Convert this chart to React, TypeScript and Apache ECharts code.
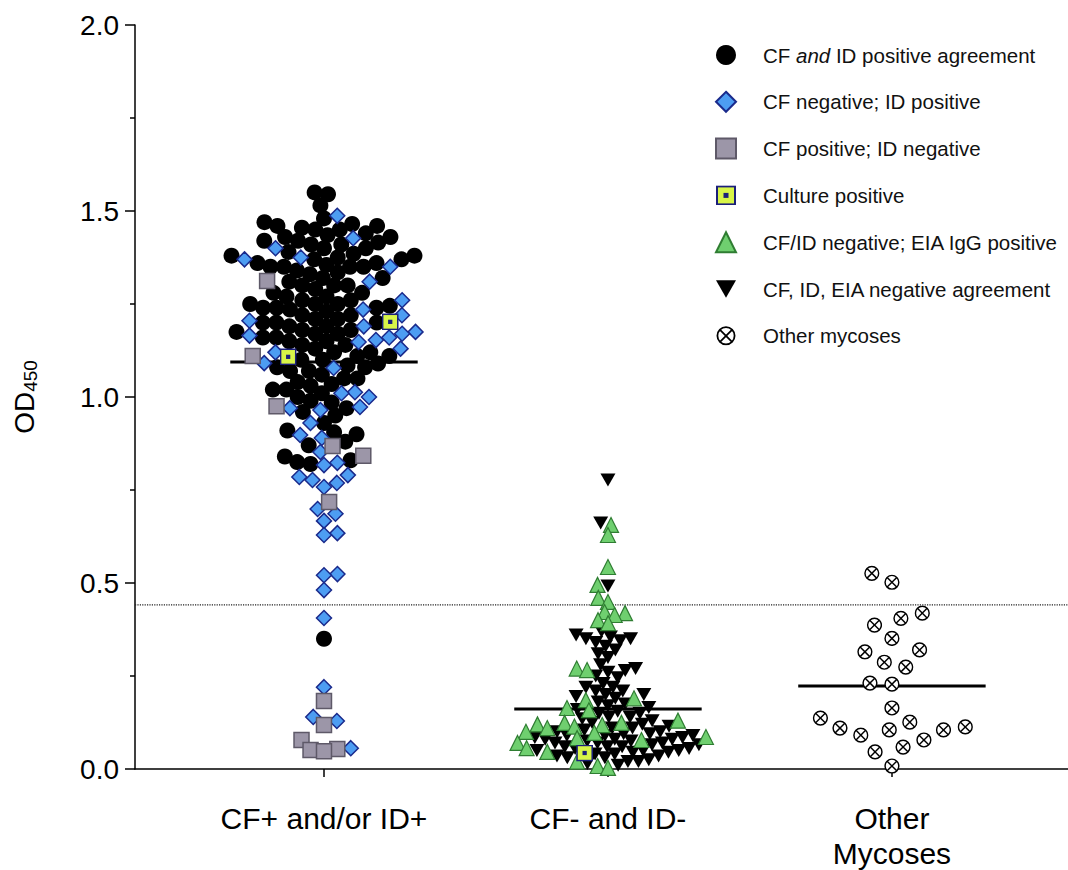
import React, { useEffect, useRef } from "react";
import * as echarts from "echarts";

// ---------- data ----------
const CATEGORIES = ["CF+ and/or ID+", "CF- and ID-", "Other\nMycoses"];
const GROUP_MEANS = [1.094, 0.161, 0.223];
const CUTOFF = 0.441;

const SERIES_NAMES = [
  "CF and ID positive agreement",
  "CF negative; ID positive",
  "CF positive; ID negative",
  "Culture positive",
  "CF/ID negative; EIA IgG positive",
  "CF, ID, EIA negative agreement",
  "Other mycoses",
];

// group 0: CF+ and/or ID+
const agreePos = [
  1.55, 1.545, 1.515,
  1.48, 1.47, 1.465, 1.46, 1.46, 1.455, 1.45, 1.45,
  1.44, 1.435, 1.43, 1.43, 1.42, 1.42, 1.415, 1.41, 1.41, 1.4, 1.4,
  1.39, 1.385, 1.38, 1.38, 1.375, 1.37, 1.37, 1.36, 1.36, 1.355, 1.35, 1.35, 1.35, 1.35,
  1.34, 1.335, 1.33, 1.32, 1.32, 1.31, 1.3, 1.3, 1.3,
  1.29, 1.28, 1.28, 1.27, 1.27, 1.26, 1.26, 1.25, 1.25, 1.25, 1.245, 1.24, 1.24, 1.24, 1.235,
  1.23, 1.22, 1.22, 1.21, 1.21, 1.2, 1.2, 1.2, 1.19, 1.19, 1.18, 1.18, 1.175, 1.17, 1.17, 1.16, 1.16, 1.15, 1.15,
  1.14, 1.14, 1.13, 1.12, 1.12, 1.11, 1.11, 1.1, 1.1,
  1.09, 1.085, 1.08, 1.08, 1.07, 1.07, 1.06, 1.05, 1.05,
  1.04, 1.035, 1.03, 1.02, 1.02, 1.01, 1.0, 0.99, 0.985,
  0.97, 0.96, 0.95, 0.93, 0.91, 0.905, 0.9, 0.88, 0.87,
  0.84, 0.83, 0.825, 0.82,
  0.35,
];
const cfNegIdPos = [
  1.487, 1.427, 1.4, 1.375, 1.37, 1.35, 1.31, 1.26, 1.235, 1.22, 1.205, 1.19, 1.175, 1.17,
  1.165, 1.16, 1.153, 1.148, 1.13, 1.12, 1.091, 1.078, 1.013, 1.01, 1.0, 0.973, 0.97, 0.965,
  0.93, 0.898, 0.89, 0.852, 0.823, 0.817, 0.79, 0.785, 0.777, 0.769, 0.758, 0.699, 0.686,
  0.667, 0.634, 0.629, 0.524, 0.521, 0.481, 0.406, 0.22, 0.14, 0.129, 0.056,
];
const cfPosIdNeg = [1.312, 1.11, 0.975, 0.868, 0.842, 0.718, 0.183, 0.118, 0.078, 0.054, 0.051, 0.048];
const culturePosG0 = [1.202, 1.108];

// group 1: CF- and ID-
const culturePosG1 = [0.043];
const eiaIgGPos = [
  0.656, 0.629, 0.543, 0.495, 0.46, 0.449, 0.422, 0.419, 0.414, 0.4, 0.392, 0.27, 0.266,
  0.19, 0.185, 0.164, 0.158, 0.13, 0.124, 0.124, 0.12, 0.118, 0.114, 0.11, 0.1, 0.097,
  0.086, 0.083, 0.078, 0.07, 0.056, 0.046, 0.02, 0.008, 0.003,
];
const negAgree = [
  0.777, 0.661, 0.492,
  0.37, 0.36, 0.355, 0.35, 0.35, 0.345, 0.34, 0.33, 0.32, 0.31, 0.3,
  0.28, 0.27, 0.265, 0.26, 0.25, 0.245,
  0.23, 0.22, 0.22, 0.21, 0.21, 0.2, 0.2, 0.195, 0.19,
  0.18, 0.175, 0.17, 0.165, 0.16, 0.155, 0.15, 0.15, 0.14, 0.14, 0.135, 0.13,
  0.125, 0.12, 0.115, 0.11, 0.11, 0.105, 0.1, 0.1, 0.095, 0.095, 0.09, 0.09, 0.09, 0.085,
  0.085, 0.08, 0.08, 0.08, 0.075, 0.075, 0.07, 0.07, 0.07, 0.065, 0.065, 0.06, 0.06, 0.06,
  0.055, 0.055, 0.05, 0.05, 0.05, 0.045, 0.045, 0.04, 0.04, 0.035, 0.035, 0.03, 0.03,
  0.025, 0.02, 0.02, 0.015, 0.01,
];

// group 2: Other mycoses
const otherMycoses = [
  0.526, 0.502, 0.419, 0.405, 0.387, 0.351, 0.32, 0.315, 0.287, 0.274, 0.231, 0.228,
  0.164, 0.137, 0.126, 0.113, 0.11, 0.105, 0.105, 0.091, 0.078, 0.059, 0.046, 0.008,
];

// ---------- layout helpers ----------
const PX_PER_X = 284;
const PX_PER_Y = 372;
const X_MIN = -0.6655;
const X_MAX = 2.62;
const MEAN_HALF = 0.33;

function swarm(vals: number[], d: number): number[] {
  const order = vals.map((_, i) => i).sort((a, b) => vals[a] - vals[b]);
  const placed: { x: number; y: number }[] = [];
  const out = new Array(vals.length).fill(0);
  order.forEach((idx, k) => {
    const y = vals[idx] * PX_PER_Y;
    const cands = [0];
    for (const p of placed) {
      const dy = Math.abs(p.y - y);
      if (dy < d) {
        const dx = Math.sqrt(d * d - dy * dy);
        cands.push(p.x + dx, p.x - dx);
      }
    }
    const pref = k % 2 === 0 ? 1 : -1;
    cands.sort((a, b) => {
      const diff = Math.abs(a) - Math.abs(b);
      if (Math.abs(diff) > 1e-6) return diff;
      return (b - a) * pref;
    });
    let chosen = 0;
    for (const c of cands) {
      let ok = true;
      for (const p of placed) {
        const dx = p.x - c;
        const dy = p.y - y;
        if (dx * dx + dy * dy < d * d - 0.01) {
          ok = false;
          break;
        }
      }
      if (ok) {
        chosen = c;
        break;
      }
    }
    placed.push({ x: chosen, y });
    out[idx] = chosen;
  });
  return out;
}

function buildSeriesData() {
  const data: number[][][] = SERIES_NAMES.map(() => []);
  const groups: { g: number; d: number; members: { s: number; v: number[] }[] }[] = [
    { g: 0, d: 13.5, members: [{ s: 0, v: agreePos }, { s: 1, v: cfNegIdPos }, { s: 2, v: cfPosIdNeg }, { s: 3, v: culturePosG0 }] },
    { g: 1, d: 10.5, members: [{ s: 5, v: negAgree }, { s: 4, v: eiaIgGPos }, { s: 3, v: culturePosG1 }] },
    { g: 2, d: 22, members: [{ s: 6, v: otherMycoses }] },
  ];
  for (const grp of groups) {
    const all = grp.members.flatMap((m) => m.v);
    const offs = swarm(all, grp.d);
    let k = 0;
    for (const m of grp.members) {
      for (const v of m.v) {
        data[m.s].push([grp.g + offs[k++] / PX_PER_X, v]);
      }
    }
  }
  return data;
}

const svgUri = (svg: string) => "image://data:image/svg+xml;charset=utf-8," + encodeURIComponent(svg);
const CULTURE_ICON = svgUri(
  "<svg xmlns='http://www.w3.org/2000/svg' width='20' height='20' viewBox='0 0 20 20'><rect x='1' y='1' width='18' height='18' fill='#d8f548' stroke='#1b1f7a' stroke-width='2'/><rect x='7.5' y='7.5' width='5' height='5' fill='#1b1f7a'/></svg>"
);
const OTHER_ICON = svgUri(
  "<svg xmlns='http://www.w3.org/2000/svg' width='20' height='20' viewBox='0 0 20 20'><circle cx='10' cy='10' r='8.6' fill='#fff' stroke='#000' stroke-width='1.8'/><line x1='4' y1='4' x2='16' y2='16' stroke='#000' stroke-width='1.8'/><line x1='16' y1='4' x2='4' y2='16' stroke='#000' stroke-width='1.8'/></svg>"
);
const DOWN_TRIANGLE = "path://M0,0 L10,0 L5,8.7 Z";

const FONT = "'Liberation Sans', Arial, Helvetica, sans-serif";

export default function App() {
  const ref = useRef<HTMLDivElement>(null);
  useEffect(() => {
    if (!ref.current) return;
    const chart = echarts.init(ref.current, undefined, { renderer: "svg" });
    const d = buildSeriesData();

    const scatterStyles: any[] = [
      { symbol: "circle", symbolSize: 16, itemStyle: { color: "#000", opacity: 1 } },
      { symbol: "diamond", symbolSize: 15, itemStyle: { color: "#4d9df2", borderColor: "#1a2a8c", borderWidth: 1.5, opacity: 1 } },
      { symbol: "rect", symbolSize: 15, itemStyle: { color: "#9c96a8", borderColor: "#5e5968", borderWidth: 1.5, opacity: 1 } },
      { symbol: CULTURE_ICON, symbolSize: 17, itemStyle: { color: "#d8f548", opacity: 1 } },
      { symbol: "triangle", symbolSize: 15, itemStyle: { color: "#6fcf6f", borderColor: "#2f7d32", borderWidth: 1.2, opacity: 1 } },
      { symbol: DOWN_TRIANGLE, symbolSize: [15, 13], itemStyle: { color: "#000", opacity: 1 } },
      { symbol: OTHER_ICON, symbolSize: 16, itemStyle: { color: "#fff", borderColor: "#000", opacity: 1 } },
    ];
    const drawOrder = [0, 1, 2, 5, 4, 6, 3];
    const scatterSeries = drawOrder.map((s) => ({
      type: "scatter",
      name: SERIES_NAMES[s],
      data: d[s],
      z: 3,
      silent: true,
      ...scatterStyles[s],
    }));

    const meanSeries = GROUP_MEANS.map((m, g) => ({
      type: "line",
      name: "mean" + g,
      data: [
        [g - MEAN_HALF, m],
        [g + MEAN_HALF, m],
      ],
      showSymbol: false,
      symbol: "none",
      z: 2,
      silent: true,
      lineStyle: { color: "#000", width: 3 },
    }));

    const cutoffSeries = {
      type: "line",
      name: "cutoff",
      data: [
        [X_MIN, CUTOFF],
        [X_MAX, CUTOFF],
      ],
      showSymbol: false,
      symbol: "none",
      z: 1,
      silent: true,
      lineStyle: { color: "#222", width: 1.2, type: "dotted" },
    };

    chart.setOption({
      animation: false,
      textStyle: { fontFamily: FONT },
      grid: { left: 135, right: 0, top: 25, bottom: 101, containLabel: false, outerBoundsMode: "none" },
      legend: {
        orient: "vertical",
        left: 710,
        top: 39,
        itemWidth: 20,
        itemHeight: 20,
        itemGap: 24.8,
        selectedMode: false,
        data: SERIES_NAMES,
        formatter: (n: string) => (n === SERIES_NAMES[0] ? "CF {i|and} ID positive agreement" : n),
        textStyle: {
          fontFamily: FONT,
          fontSize: 20.5,
          color: "#111",
          padding: [0, 0, 0, 22],
          lineHeight: 22,
          rich: { i: { fontFamily: FONT, fontSize: 20.5, fontStyle: "italic", color: "#111", lineHeight: 22 } },
        },
      },
      xAxis: {
        type: "value",
        min: X_MIN,
        max: X_MAX,
        splitLine: { show: false },
        axisLine: { show: true, onZero: false, lineStyle: { color: "#000", width: 1.5 } },
        axisTick: { show: true, customValues: [0, 1, 2], length: 8, lineStyle: { color: "#000", width: 1.5 } },
        axisLabel: {
          show: true,
          customValues: [0, 1, 2],
          formatter: (v: number) => CATEGORIES[Math.round(v)] ?? "",
          fontSize: 30,
          lineHeight: 35,
          color: "#000",
          margin: 32,
          fontFamily: FONT,
        },
      },
      yAxis: {
        type: "value",
        min: 0,
        max: 2,
        interval: 0.5,
        splitLine: { show: false },
        axisLine: { show: true, onZero: false, lineStyle: { color: "#000", width: 1.5 } },
        axisTick: { show: true, length: 10, lineStyle: { color: "#000", width: 1.5 } },
        minorTick: { show: true, splitNumber: 2, length: 5, lineStyle: { color: "#000", width: 1.5 } },
        axisLabel: {
          fontSize: 28,
          color: "#000",
          margin: 16,
          fontFamily: FONT,
          formatter: (v: number) => v.toFixed(1),
        },
        name: "{a|OD}{b|450}",
        nameLocation: "middle",
        nameRotate: 90,
        nameGap: 95,
        nameTextStyle: {
          rich: {
            a: { fontSize: 28, lineHeight: 32, color: "#000", fontFamily: FONT },
            b: { fontSize: 19, lineHeight: 14, color: "#000", fontFamily: FONT, verticalAlign: "bottom" },
          },
        },
      },
      series: [cutoffSeries, ...meanSeries, ...scatterSeries],
    });
    return () => chart.dispose();
  }, []);
  return <div ref={ref} style={{ position: "absolute", left: 0, top: 0, width: 1068, height: 870 }} />;
}
